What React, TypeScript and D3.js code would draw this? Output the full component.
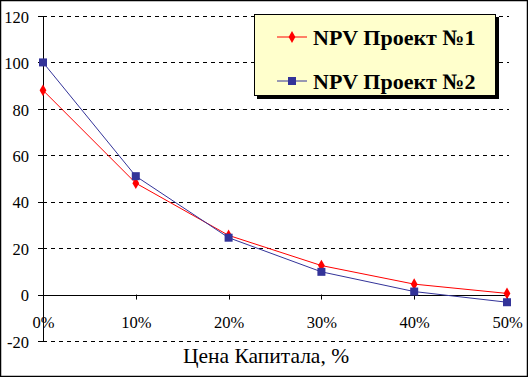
import React from "react";
import * as d3 from "d3";

const categories = ["0%", "10%", "20%", "30%", "40%", "50%"];
const project1 = [88, 48, 25.5, 12.5, 4.5, 0.5];
const project2 = [100, 51, 24.5, 9.8, 1.3, -3.3];
const yTicks = [-20, 0, 20, 40, 60, 80, 100, 120];
const seriesNames = ["NPV Проект №1", "NPV Проект №2"];
const xTitle = "Цена Капитала, %";

const W = 528, H = 377;
const x0 = 43, x1 = 507, yTop = 16, yBot = 341;
const FONT = "serif";

export default function App() {
  React.useEffect(() => { document.body.style.margin = "0"; }, []);
  const x = d3.scalePoint<string>().domain(categories).range([x0, x1]);
  const y = d3.scaleLinear().domain([-20, 120]).range([yBot, yTop]);
  const line = d3.line<number>().x((_, i) => x(categories[i])!).y(d => y(d));
  const diamond = d3.symbol().type(d3.symbolDiamond).size(40)();
  return (
    <svg width={W} height={H} style={{ display: "block" }} fontFamily={FONT}>
      <rect x={0.5} y={0.5} width={W - 1} height={H - 1} fill="white" stroke="black" strokeWidth={1.5} />
      {yTicks.filter(t => t !== 0).map(t => (
        <line key={t} x1={x0} x2={x1 + 2} y1={Math.round(y(t)) + 0.5} y2={Math.round(y(t)) + 0.5} stroke="black" strokeDasharray="4,4" />
      ))}
      <line x1={x0 + 0.5} x2={x0 + 0.5} y1={yTop} y2={yBot} stroke="black" />
      <line x1={x0} x2={x1} y1={Math.round(y(0)) + 0.5} y2={Math.round(y(0)) + 0.5} stroke="black" />
      {yTicks.map(t => (
        <g key={t}>
          <line x1={x0 - 5} x2={x0} y1={Math.round(y(t)) + 0.5} y2={Math.round(y(t)) + 0.5} stroke="black" />
          <text x={29} y={y(t) + 1} dy="0.35em" textAnchor="end" fontSize={16.5} fontFamily={FONT}>{t}</text>
        </g>
      ))}
      {categories.map(c => (
        <g key={c}>
          <line x1={Math.round(x(c)!) + 0.5} x2={Math.round(x(c)!) + 0.5} y1={y(0)} y2={y(0) + 5} stroke="black" />
          <text x={x(c)! + 0.5} y={328} textAnchor="middle" fontSize={16.5} fontFamily={FONT}>{c}</text>
        </g>
      ))}
      <path d={line(project1)!} fill="none" stroke="#FF0000" strokeWidth={1} />
      <path d={line(project2)!} fill="none" stroke="#333399" strokeWidth={1} />
      {project1.map((v, i) => (
        <path key={i} d={diamond!} transform={`translate(${x(categories[i])},${y(v)})`} fill="#FF0000" />
      ))}
      {project2.map((v, i) => (
        <rect key={i} x={x(categories[i])! - 4} y={y(v) - 4} width={8} height={8} fill="#333399" />
      ))}
      <text x={266} y={363} textAnchor="middle" fontSize={21.5} fontFamily={FONT}>{xTitle}</text>
      <rect x={257} y={17} width={242} height={82} fill="black" />
      <rect x={254.5} y={14.5} width={241} height={81} fill="#FFFFCC" stroke="black" />
      {seriesNames.map((n, i) => {
        const ly = i === 0 ? 37 : 81;
        return (
          <g key={n}>
            <line x1={277} x2={307} y1={ly} y2={ly} stroke={i === 0 ? "#FF0000" : "#333399"} />
            {i === 0 ? (
              <path d={diamond!} transform={`translate(292,${ly})`} fill="#FF0000" />
            ) : (
              <rect x={288} y={ly - 4} width={8} height={8} fill="#333399" />
            )}
            <text x={313} y={ly} dy="0.35em" fontSize={22} fontWeight="bold" fontFamily={FONT}>{n}</text>
          </g>
        );
      })}
    </svg>
  );
}
